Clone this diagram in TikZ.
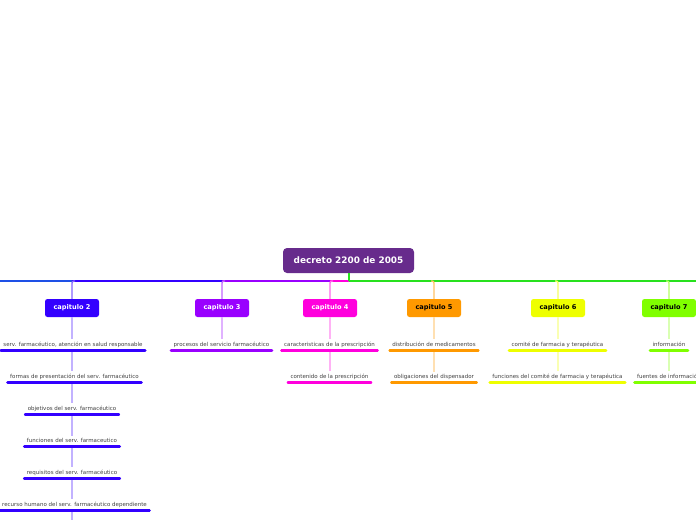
\documentclass[tikz,border=0pt]{standalone}
\usepackage{fontspec}
\setmainfont{DejaVu Sans}
\usepackage{tikz}
\usetikzlibrary{calc}
\definecolor{rootc}{RGB}{103,43,140}
\definecolor{capa}{RGB}{30,80,230}
\definecolor{capb}{RGB}{51,0,255}
\definecolor{capc}{RGB}{153,0,255}
\definecolor{capd}{RGB}{255,0,221}
\definecolor{cape}{RGB}{255,153,0}
\definecolor{capf}{RGB}{238,255,0}
\definecolor{capg}{RGB}{128,255,0}
\definecolor{barg}{RGB}{40,225,30}
\tikzset{
  rootbox/.style={fill=rootc,text=white,rounded corners=4pt,minimum width=131pt,minimum height=25pt,
    font=\bfseries\fontsize{8.9}{10}\selectfont},
  capbox/.style={rounded corners=2.5pt,minimum width=54pt,minimum height=18pt,inner sep=0pt,
    font=\bfseries\fontsize{6.6}{8}\selectfont},
  subbox/.style={anchor=base,inner xsep=3.5pt,inner ysep=2pt,text=black!75,
    font=\fontsize{5.5}{6.5}\selectfont},
  uline/.style={line width=2.6pt,line cap=round},
  dropline/.style={line width=1.4pt},
  barline/.style={line width=1.4pt},
  linkline/.style={line width=1.3pt}
}
\newcommand{\subline}[2]{\draw[uline,#2] ([yshift=-4.6pt,xshift=1pt]#1.base west) -- ([yshift=-4.6pt,xshift=-1pt]#1.base east);}
\begin{document}
\begin{tikzpicture}[x=1pt,y=-1pt]
\useasboundingbox (0,0) rectangle (696,520);
\node[rootbox] (dec) at (348.5,260.5) {decreto 2200 de 2005};
\coordinate (hub) at (349,281);
% chapters
\foreach \n/\x/\c/\t/\l in {c2/72/capb/white/capitulo 2,c3/222/capc/white/capitulo 3,
    c4/330/capd/white/capitulo 4,c5/434/cape/black/capitulo 5,
    c6/558/capf/black/capitulo 6,c7/669/capg/black/capitulo 7}{
  \node[capbox,fill=\c,text=\t] (\n) at (\x,308) {\l};
}
% bar, farthest first
\draw[barline,capa] (hub) -- (0,281);
\foreach \n/\c in {c2/capb,c3/capc,c4/capd}{
  \draw[barline,\c] (hub) -- (\n.north |- hub);
}
\draw[barline,barg] (hub) -- (696,281);
\draw[barline,barg] (dec.south -| hub) -- (hub);
\foreach \n/\c/\s in {c2/capb/1,c3/capc/1,c4/capd/1,c5/cape/-1,c6/capf/-1,c7/capg/-1}{
  \draw[dropline,\c!60,rounded corners=2pt] ($(\n.north |- hub)+(\s*3,0)$) -| (\n.north);
}
% capitulo 2
\node[subbox] (s21) at (73,346) {serv. farmacéutico, atención en salud responsable};
\node[subbox] (s22) at (74.5,378) {formas de presentación del serv. farmacéutico};
\node[subbox] (s23) at (72,410) {objetivos del serv. farmacéutico};
\node[subbox] (s24) at (72,442) {funciones del serv. farmaceutico};
\node[subbox] (s25) at (72,474) {requisitos del serv. farmacéutico};
\node[subbox] (s26) at (74.5,506) {recurso humano del serv. farmacéutico dependiente};
\coordinate (s27) at (72,520);
% capitulo 3
\node[subbox] (s31) at (221.5,346) {procesos del servicio farmacéutico};
% capitulo 4
\node[subbox] (s41) at (329.5,346) {caracteristicas de la prescripción};
\node[subbox] (s42) at (329.5,378) {contenido de la prescripción};
% capitulo 5
\node[subbox] (s51) at (434,346) {distribución de medicamentos};
\node[subbox] (s52) at (434,378) {obligaciones del dispensador};
% capitulo 6
\node[subbox] (s61) at (557.5,346) {comité de farmacia y terapéutica};
\node[subbox] (s62) at (557.5,378) {funciones del comité de farmacia y terapéutica};
% capitulo 7
\node[subbox] (s71) at (669,346) {información};
\node[subbox] (s72) at (669,378) {fuentes de información};
% links
\draw[linkline,capb!30] (c2.south) -- (s21.north -| c2.south);
\foreach \a/\b in {s21/s22,s22/s23,s23/s24,s24/s25,s25/s26}{
  \draw[linkline,capb!30] ([yshift=-6pt]\a.base -| c2.south) -- (\b.north -| c2.south);
}
\draw[linkline,capb!30] ([yshift=-6pt]s26.base -| c2.south) -- (s27);
\draw[linkline,capc!30] (c3.south) -- (s31.north -| c3.south);
\foreach \n/\a/\b/\c in {c4/s41/s42/capd,c5/s51/s52/cape,c6/s61/s62/capf,c7/s71/s72/capg}{
  \draw[linkline,\c!30] (\n.south) -- (\a.north -| \n.south);
  \draw[linkline,\c!30] ([yshift=-6pt]\a.base -| \n.south) -- (\b.north -| \n.south);
}
% underlines
\foreach \s in {s21,s22,s23,s24,s25,s26}{\subline{\s}{capb}}
\subline{s31}{capc}
\foreach \s in {s41,s42}{\subline{\s}{capd}}
\foreach \s in {s51,s52}{\subline{\s}{cape}}
\foreach \s in {s61,s62}{\subline{\s}{capf}}
\foreach \s in {s71,s72}{\subline{\s}{capg}}
\end{tikzpicture}
\end{document}
